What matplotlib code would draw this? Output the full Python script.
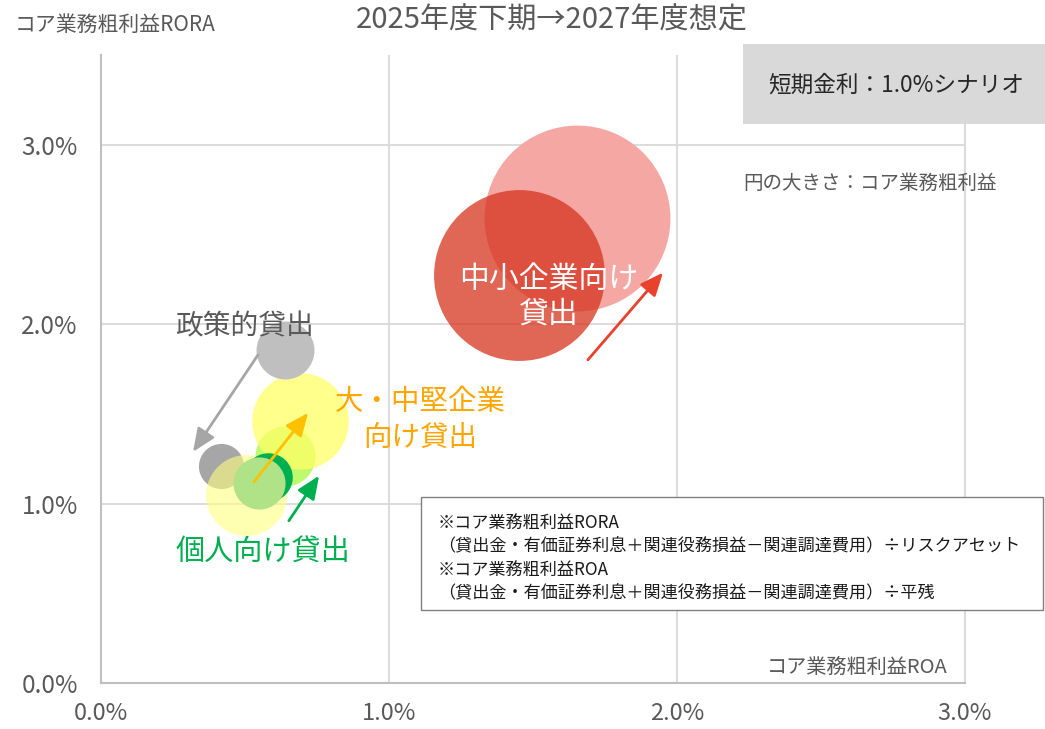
import matplotlib
matplotlib.use('Agg')
import matplotlib.pyplot as plt
from matplotlib.patches import Rectangle

plt.rcParams['font.family'] = ['Noto Sans CJK JP', 'DejaVu Sans']

# データ (ROA・RORAは%、円の大きさはコア業務粗利益の相対値)
bubble_names = ['中小企業 2027', '中小企業 2025', '政策的 2027', '個人 2027',
                '大・中堅 2027', '政策的 2025', '大・中堅 2025', '個人 2025', '個人 2025b']
roa = [1.651, 1.450, 0.415, 0.638, 0.690, 0.638, 0.502, 0.577, 0.549]
rora = [2.590, 2.276, 1.210, 1.266, 1.461, 1.857, 1.049, 1.146, 1.115]
profit = [865, 731, 51, 90, 233, 84, 164, 59, 68]

x_ticks = [0, 1, 2, 3]
y_ticks = [0, 1, 2, 3]
tick_labels = ['0.0%', '1.0%', '2.0%', '3.0%']

# 見た目
colors = ['#f4a7a3', '#d6331e', '#a6a6a6', '#bdfa6e', '#ffff66',
          '#bfbfbf', '#ffff80', '#00b050', '#b0e388']
alphas = [1, 0.75, 1, 1, 0.75, 1, 0.6, 1, 1]

fig = plt.figure(figsize=(10.45, 7.29), dpi=100)
ax = fig.add_axes([0.0971, 0.0631, 0.8263, 0.8615])

for i in range(len(roa)):
    ax.scatter(roa[i], rora[i], s=profit[i] * 20.7, color=colors[i],
               alpha=alphas[i], linewidths=0, zorder=3 + i)

# 矢印
arrows = [((0.544, 1.829), (0.318, 1.288), '#a6a6a6'),
          ((0.530, 1.121), (0.718, 1.506), '#ffc000'),
          ((0.651, 0.904), (0.756, 1.155), '#00b050'),
          ((1.690, 1.801), (1.951, 2.287), '#e8412c')]
for start, end, c in arrows:
    ax.annotate('', xy=end, xytext=start, zorder=20,
                arrowprops=dict(arrowstyle='-|>,head_length=0.7,head_width=0.3',
                                color=c, lw=2, mutation_scale=20,
                                shrinkA=0, shrinkB=0))

# ラベル
ax.text(0.497, 1.985, '政策的貸出', fontsize=20, color='#595959',
        ha='center', va='center', zorder=25)
ax.text(1.107, 1.467, '大・中堅企業\n向け貸出', fontsize=20.5, color='#ffa500',
        ha='center', va='center', linespacing=1.25, zorder=25)
ax.text(0.561, 0.731, '個人向け貸出', fontsize=21, color='#00b050',
        ha='center', va='center', zorder=25)
ax.text(1.555, 2.153, '中小企業向け\n貸出', fontsize=21.5, color='white',
        ha='center', va='center', linespacing=1.15, zorder=25)

ax.set_xlim(0, 3)
ax.set_ylim(0, 3.5)
ax.set_xticks(x_ticks)
ax.set_xticklabels(tick_labels)
ax.set_yticks(y_ticks)
ax.set_yticklabels(tick_labels)
ax.tick_params(length=0, labelsize=17.5, labelcolor='#595959')
ax.tick_params(axis='y', pad=17)
ax.tick_params(axis='x', pad=14, labelsize=17)
ax.grid(True, color='#d9d9d9', lw=1.3, zorder=0)
ax.set_axisbelow(True)
ax.spines['top'].set_visible(False)
ax.spines['right'].set_color('#d9d9d9')
ax.spines['right'].set_linewidth(1.3)
for s in ['left', 'bottom']:
    ax.spines[s].set_color('#bfbfbf')
    ax.spines[s].set_linewidth(1.5)

# タイトル・軸名
fig.text(0.528, 0.9726, '2025年度下期→2027年度想定', fontsize=21,
         color='#595959', ha='center', va='center')
fig.text(0.0144, 0.9657, 'コア業務粗利益RORA', fontsize=15,
         color='#595959', ha='left', va='center')
fig.text(0.9072, 0.0850, 'コア業務粗利益ROA', fontsize=14.5,
         color='#595959', ha='right', va='center')
fig.text(0.711, 0.749, '円の大きさ：コア業務粗利益', fontsize=14,
         color='#595959', ha='left', va='center')

# シナリオの箱
fig.add_artist(Rectangle((0.711, 0.8299), 0.289, 0.1097, transform=fig.transFigure,
                         facecolor='#d9d9d9', edgecolor='none', zorder=30))
fig.text(0.858, 0.8834, '短期金利：1.0%シナリオ', fontsize=16.3,
         color='#262626', ha='center', va='center', zorder=31)

# 注記の箱
fig.add_artist(Rectangle((0.4029, 0.1632), 0.5952, 0.155, transform=fig.transFigure,
                         facecolor='white', edgecolor='#808080', lw=1, zorder=30))
notes = ['※コア業務粗利益RORA',
         '（貸出金・有価証券利息＋関連役務損益－関連調達費用）÷リスクアセット',
         '※コア業務粗利益ROA',
         '（貸出金・有価証券利息＋関連役務損益－関連調達費用）÷平残']
note_y = [0.2826, 0.2510, 0.2181, 0.1866]
note_size = [12.3, 12.3, 12.3, 12.3]
for t, y, fs in zip(notes, note_y, note_size):
    fig.text(0.419, y, t, fontsize=fs, color='#1a1a1a',
             ha='left', va='center', zorder=31)

fig.savefig('out.png', dpi=100)
